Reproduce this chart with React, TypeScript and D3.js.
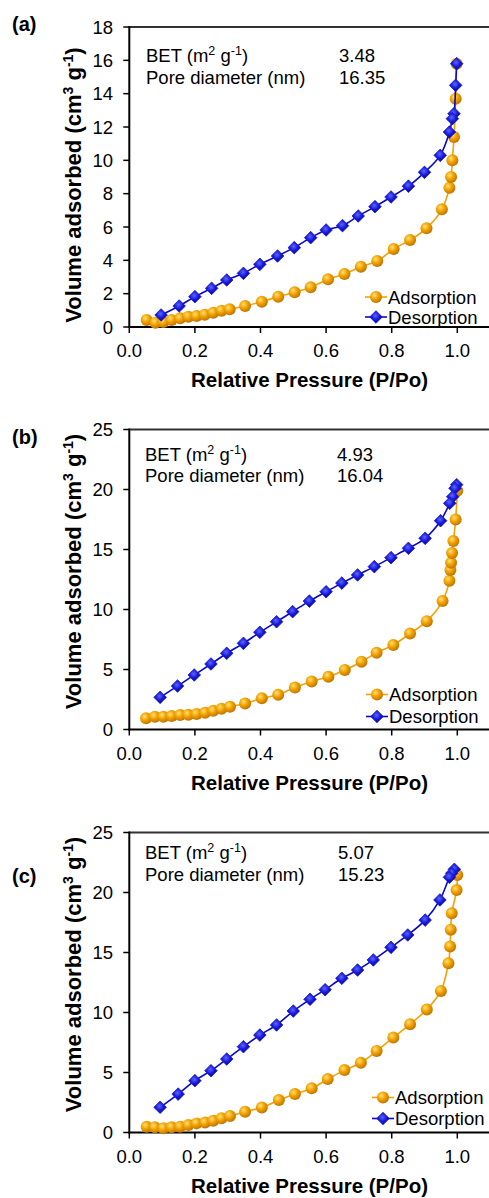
import * as d3 from 'd3'

// Relative pressure (P/Po) and volume adsorbed (cm3/g)
const adsPressureA = [0.053, 0.08, 0.104, 0.129, 0.155, 0.18, 0.205, 0.23, 0.256, 0.281, 0.306, 0.353, 0.404, 0.454, 0.504, 0.553, 0.606, 0.656, 0.706, 0.756, 0.806, 0.856, 0.906, 0.953, 0.976, 0.981, 0.985, 0.99, 0.995, 0.998]
const adsVolumeA = [0.42, 0.26, 0.3, 0.42, 0.52, 0.62, 0.66, 0.74, 0.86, 0.98, 1.06, 1.26, 1.52, 1.82, 2.08, 2.38, 2.86, 3.18, 3.62, 3.96, 4.68, 5.22, 5.92, 7.06, 8.35, 9.0, 10.0, 11.4, 13.7, 15.8]
const desPressureA = [0.998, 0.995, 0.99, 0.985, 0.976, 0.948, 0.9, 0.851, 0.798, 0.749, 0.698, 0.65, 0.6, 0.553, 0.503, 0.452, 0.398, 0.348, 0.297, 0.251, 0.2, 0.152, 0.097]
const desVolumeA = [15.8, 14.5, 12.8, 12.5, 11.7, 10.3, 9.28, 8.45, 7.8, 7.22, 6.66, 6.08, 5.82, 5.36, 4.76, 4.26, 3.76, 3.22, 2.82, 2.32, 1.82, 1.26, 0.72]

const adsPressureB = [0.051, 0.078, 0.104, 0.129, 0.155, 0.18, 0.205, 0.231, 0.256, 0.281, 0.307, 0.353, 0.404, 0.454, 0.505, 0.556, 0.607, 0.657, 0.708, 0.754, 0.805, 0.856, 0.907, 0.955, 0.976, 0.979, 0.981, 0.984, 0.988, 0.995, 1.0]
const adsVolumeB = [0.93, 1.07, 1.07, 1.12, 1.2, 1.23, 1.29, 1.4, 1.56, 1.73, 1.9, 2.17, 2.6, 2.9, 3.5, 4.0, 4.4, 4.96, 5.65, 6.4, 7.04, 8.0, 9.03, 10.7, 12.4, 13.3, 13.9, 14.7, 15.7, 17.5, 19.9]
const desPressureB = [0.998, 0.993, 0.986, 0.977, 0.949, 0.902, 0.851, 0.798, 0.747, 0.696, 0.648, 0.6, 0.549, 0.498, 0.449, 0.398, 0.348, 0.297, 0.249, 0.198, 0.147, 0.094]
const desVolumeB = [20.4, 20.1, 19.4, 18.85, 17.4, 15.93, 15.1, 14.32, 13.57, 12.88, 12.2, 11.48, 10.7, 9.82, 8.98, 8.1, 7.18, 6.35, 5.46, 4.54, 3.62, 2.68]

const adsPressureC = [0.053, 0.078, 0.104, 0.129, 0.155, 0.18, 0.205, 0.231, 0.256, 0.281, 0.307, 0.353, 0.404, 0.456, 0.505, 0.556, 0.605, 0.656, 0.706, 0.754, 0.805, 0.856, 0.907, 0.95, 0.973, 0.978, 0.98, 0.983, 0.998, 1.0]
const adsVolumeC = [0.48, 0.43, 0.36, 0.43, 0.48, 0.62, 0.76, 0.84, 0.98, 1.18, 1.37, 1.73, 2.09, 2.7, 3.2, 3.68, 4.45, 5.2, 5.81, 6.8, 7.91, 9.03, 10.25, 11.8, 14.1, 15.5, 16.9, 18.27, 20.2, 21.46]
const desPressureC = [0.991, 0.983, 0.976, 0.947, 0.902, 0.849, 0.798, 0.744, 0.696, 0.648, 0.597, 0.551, 0.5, 0.449, 0.398, 0.348, 0.297, 0.249, 0.2, 0.149, 0.094]
const desVolumeC = [21.93, 21.6, 21.27, 19.38, 17.7, 16.46, 15.43, 14.38, 13.54, 12.85, 11.9, 11.1, 10.12, 8.96, 8.12, 7.15, 6.12, 5.15, 4.32, 3.2, 2.1]

const panelLabels = ['(a)', '(b)', '(c)']
const betValues = ['3.48', '4.93', '5.07']
const poreValues = ['16.35', '16.04', '15.23']
const seriesNames = ['Adsorption', 'Desorption']
const xTicks = [0, 0.2, 0.4, 0.6, 0.8, 1.0]
const yTicksA = [0, 2, 4, 6, 8, 10, 12, 14, 16, 18]
const yTicksBC = [0, 5, 10, 15, 20, 25]

const FONT = "'Liberation Sans', Arial, Helvetica, sans-serif"
const ORANGE_LINE = '#f5a100'
const BLUE_LINE = '#0808cc'

const xScale = d3.scaleLinear().domain([0, 1.1]).range([129.3, 490.1])

const zip = (xs, ys) => xs.map((x, i) => [x, ys[i]])

const panels = [
  {
    top: 27, bottom: 327, yMax: 18, yTicks: yTicksA,
    ads: zip(adsPressureA, adsVolumeA), des: zip(desPressureA, desVolumeA),
    labelY: 30.5, titleShift: 8, infoY: [62, 84], infoX: [146, 339], legendY: [297, 317], legendX: 388,
  },
  {
    top: 429.5, bottom: 729.5, yMax: 25, yTicks: yTicksBC,
    ads: zip(adsPressureB, adsVolumeB), des: zip(desPressureB, desVolumeB),
    labelY: 443.5, titleShift: -8, infoY: [461, 482], infoX: [145, 337], legendY: [694.5, 716.5], legendX: 389,
  },
  {
    top: 832.5, bottom: 1132.5, yMax: 25, yTicks: yTicksBC,
    ads: zip(adsPressureC, adsVolumeC), des: zip(desPressureC, desVolumeC),
    labelY: 883, titleShift: -8, infoY: [858.5, 881], infoX: [145, 338], legendY: [1097.5, 1118.5], legendX: 395,
  },
]

const diamond = (s) => `M0,${-s}L${s},0L0,${s}L${-s},0Z`

const Ball = ({ x, y }) => (
  <circle cx={x} cy={y} r={6} fill="url(#orangeBall)" />
)

const Gem = ({ x, y }) => (
  <path
    d={diamond(6.3)}
    transform={`translate(${x},${y})`}
    fill="url(#blueGem)"
    stroke="#1a1acc"
    strokeWidth={0.8}
    strokeLinejoin="round"
  />
)

const Panel = ({ p, i }) => {
  const yScale = d3.scaleLinear().domain([0, p.yMax]).range([p.bottom, p.top])
  const line = d3
    .line()
    .x((d) => xScale(d[0]))
    .y((d) => yScale(d[1]))
    .curve(d3.curveCatmullRom.alpha(0.5))
  const x0 = xScale(0)
  const midY = (p.top + p.bottom) / 2 + p.titleShift

  return (
    <g>
      <text x={12} y={p.labelY} fontSize={20} fontWeight="bold">{panelLabels[i]}</text>

      {/* frame */}
      <line x1={x0} x2={489} y1={p.top} y2={p.top} stroke="#333" strokeWidth={2} />
      <line x1={x0} x2={x0} y1={p.top - 1} y2={p.bottom + 1} stroke="#000" strokeWidth={2} />
      <line x1={x0 - 1} x2={489} y1={p.bottom} y2={p.bottom} stroke="#000" strokeWidth={2} />

      {p.yTicks.map((t) => (
        <g key={t} transform={`translate(0,${yScale(t)})`}>
          <line x1={x0 - 6} x2={x0} stroke="#000" strokeWidth={1.5} />
          <text x={113} dy="0.36em" textAnchor="end" fontSize={18.5}>{t}</text>
        </g>
      ))}
      {xTicks.map((t) => (
        <g key={t} transform={`translate(${xScale(t)},${p.bottom})`}>
          <line y1={0} y2={6} stroke="#000" strokeWidth={1.5} />
          <text y={30} textAnchor="middle" fontSize={18.5}>{t.toFixed(1)}</text>
        </g>
      ))}

      {/* axis titles */}
      <text
        transform={`translate(81,${midY}) rotate(-90)`}
        textAnchor="middle"
        fontSize={22}
        fontWeight="bold"
      >
        Volume adsorbed (cm<tspan dy={-8} fontSize={14}>3</tspan>
        <tspan dy={8}> g</tspan>
        <tspan dy={-8} fontSize={14}>-1</tspan>
        <tspan dy={8}>)</tspan>
      </text>
      <text x={309.5} y={p.bottom + 60} textAnchor="middle" fontSize={20.5} fontWeight="bold">
        Relative Pressure (P/Po)
      </text>

      {/* BET info */}
      <text x={p.infoX[0]} y={p.infoY[0]} fontSize={18.5}>
        BET (m<tspan dy={-7} fontSize={12.5}>2</tspan>
        <tspan dy={7}> g</tspan>
        <tspan dy={-7} fontSize={12.5}>-1</tspan>
        <tspan dy={7}>)</tspan>
      </text>
      <text x={p.infoX[0]} y={p.infoY[1]} fontSize={18.5}>Pore diameter (nm)</text>
      <text x={p.infoX[1]} y={p.infoY[0]} fontSize={18.5}>{betValues[i]}</text>
      <text x={p.infoX[1]} y={p.infoY[1]} fontSize={18.5}>{poreValues[i]}</text>

      {/* series */}
      <path d={line(p.ads)} fill="none" stroke={ORANGE_LINE} strokeWidth={1.6} />
      {p.ads.map((d, k) => (
        <Ball key={k} x={xScale(d[0])} y={yScale(d[1])} />
      ))}
      <path d={line(p.des)} fill="none" stroke={BLUE_LINE} strokeWidth={1.6} />
      {p.des.map((d, k) => (
        <Gem key={k} x={xScale(d[0])} y={yScale(d[1])} />
      ))}

      {/* legend */}
      <g transform={`translate(${p.legendX},${p.legendY[0]})`}>
        <line x1={-23} x2={-1} stroke={ORANGE_LINE} strokeWidth={1.6} />
        <Ball x={-12} y={0} />
        <text x={0} dy="0.36em" fontSize={18.5}>{seriesNames[0]}</text>
      </g>
      <g transform={`translate(${p.legendX},${p.legendY[1]})`}>
        <line x1={-23} x2={-1} stroke={BLUE_LINE} strokeWidth={1.6} />
        <Gem x={-12} y={0} />
        <text x={0} dy="0.36em" fontSize={18.5}>{seriesNames[1]}</text>
      </g>
    </g>
  )
}

export default function App() {
  return (
    <div style={{ position: 'absolute', left: 0, top: 0 }}>
      <svg width={489} height={1198} fontFamily={FONT} style={{ display: 'block', background: '#fff' }}>
        <defs>
          <radialGradient id="orangeBall" cx="0.38" cy="0.35" r="0.7">
            <stop offset="0" stopColor="#ffe27a" />
            <stop offset="0.45" stopColor="#f4a300" />
            <stop offset="1" stopColor="#b96f00" />
          </radialGradient>
          <radialGradient id="blueGem" cx="0.45" cy="0.4" r="0.65">
            <stop offset="0" stopColor="#5a66ff" />
            <stop offset="0.5" stopColor="#1818d8" />
            <stop offset="1" stopColor="#00008a" />
          </radialGradient>
        </defs>
        {panels.map((p, i) => (
          <Panel key={i} p={p} i={i} />
        ))}
      </svg>
    </div>
  )
}
